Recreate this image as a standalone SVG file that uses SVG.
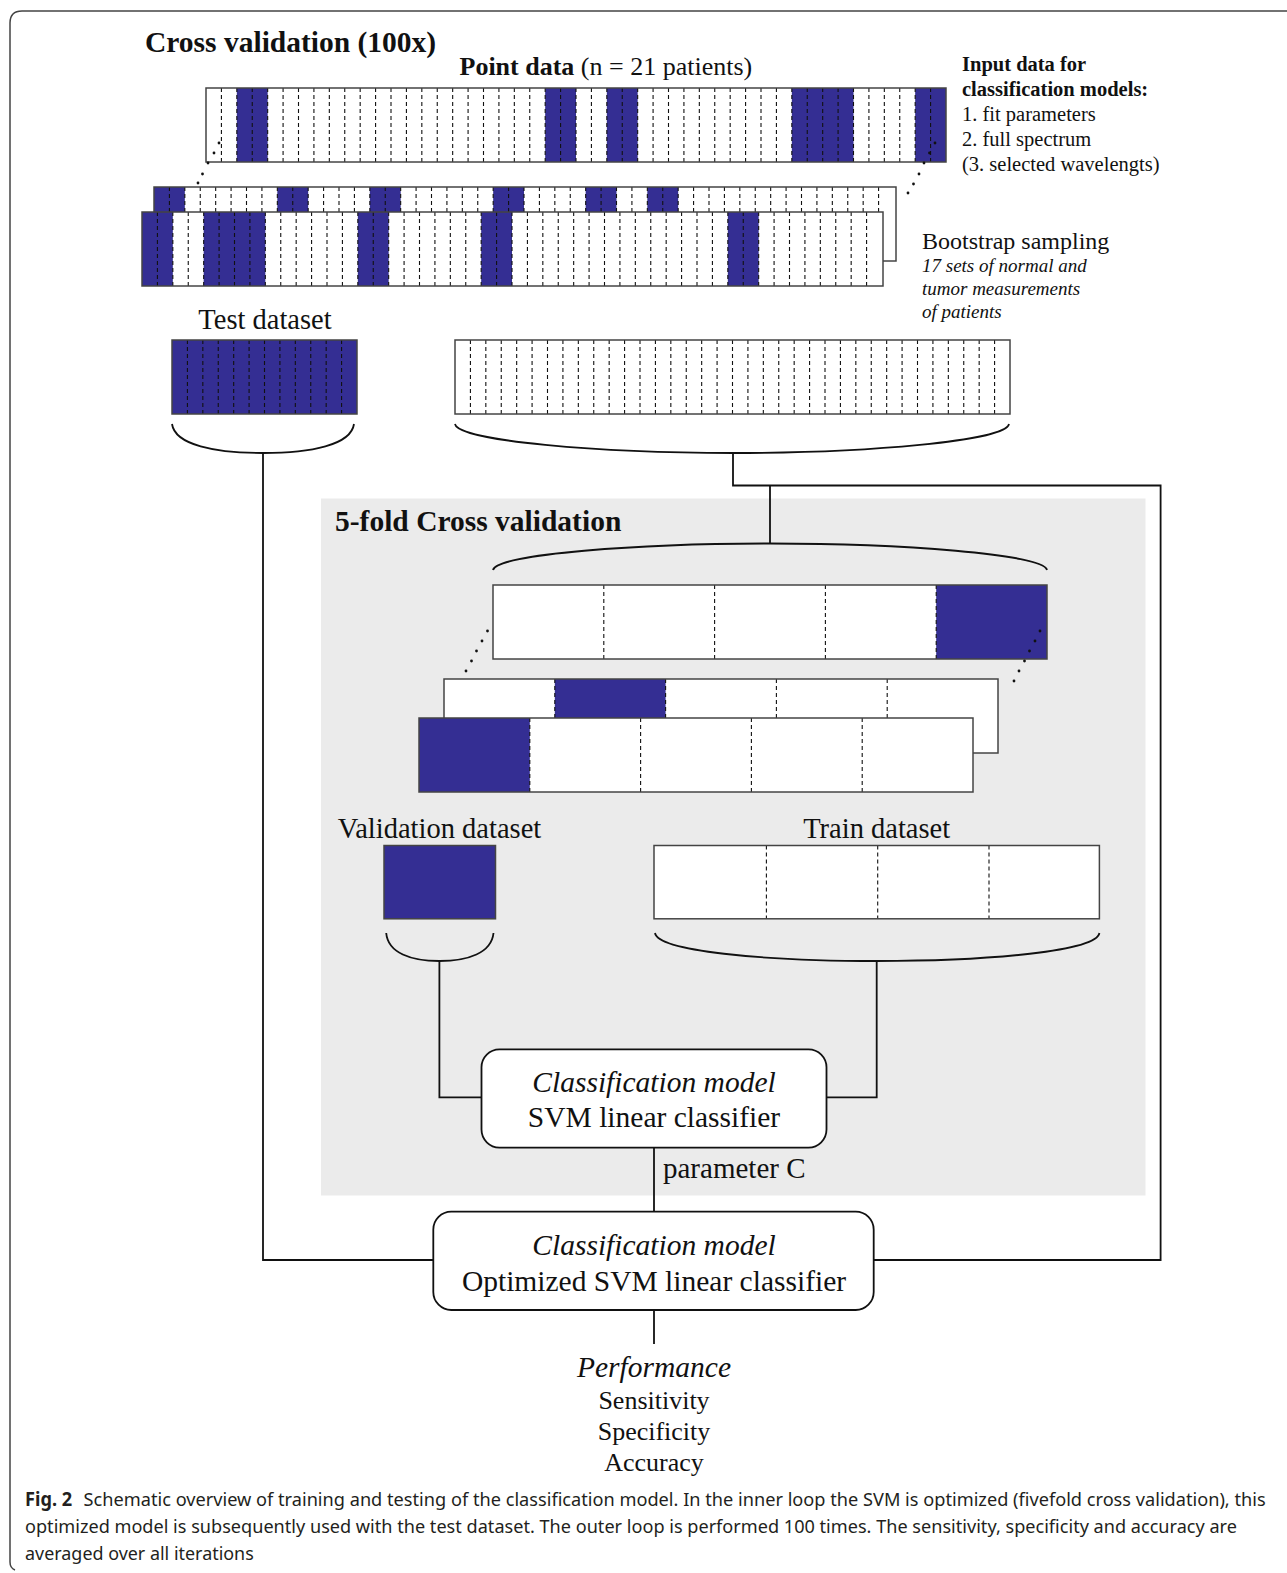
<svg xmlns="http://www.w3.org/2000/svg" xmlns:xlink="http://www.w3.org/1999/xlink" width="1287" height="1573" viewBox="0 0 1287 1573">
<style>
.serif{font-family:"Liberation Serif","Times New Roman",serif;fill:#111}
.b{font-weight:bold}
.i{font-style:italic}
.blue{fill:#342e93}
.frame{fill:none;stroke:#444;stroke-width:1.5}
.dash{fill:none;stroke:#111;stroke-width:1.1;stroke-dasharray:4,3}
.conn{fill:none;stroke:#111;stroke-width:1.8}
.box{fill:#fff;stroke:#111;stroke-width:1.8}
.cap{font-family:"Noto Sans","Open Sans","Liberation Sans",sans-serif;fill:#231f20;font-size:19px}
</style>
<defs>
<path id="c47" d="M15.42 0v74M30.83 0v74M46.25 0v74M61.67 0v74M77.08 0v74M92.5 0v74M107.92 0v74M123.33 0v74M138.75 0v74M154.17 0v74M169.58 0v74M185 0v74M200.42 0v74M215.83 0v74M231.25 0v74M246.67 0v74M262.08 0v74M277.5 0v74M292.92 0v74M308.33 0v74M323.75 0v74M339.17 0v74M354.58 0v74M370 0v74M385.42 0v74M400.83 0v74M416.25 0v74M431.67 0v74M447.08 0v74M462.5 0v74M477.92 0v74M493.33 0v74M508.75 0v74M524.17 0v74M539.58 0v74M555 0v74M570.42 0v74M585.83 0v74M601.25 0v74M616.67 0v74M632.08 0v74M647.5 0v74M662.92 0v74M678.33 0v74M693.75 0v74M709.17 0v74M724.58 0v74"/>
<path id="c11" d="M15.42 0v74M30.83 0v74M46.25 0v74M61.67 0v74M77.08 0v74M92.5 0v74M107.92 0v74M123.33 0v74M138.75 0v74M154.17 0v74M169.58 0v74"/>
<path id="c35" d="M15.42 0v74M30.83 0v74M46.25 0v74M61.67 0v74M77.08 0v74M92.5 0v74M107.92 0v74M123.33 0v74M138.75 0v74M154.17 0v74M169.58 0v74M185 0v74M200.42 0v74M215.83 0v74M231.25 0v74M246.67 0v74M262.08 0v74M277.5 0v74M292.92 0v74M308.33 0v74M323.75 0v74M339.17 0v74M354.58 0v74M370 0v74M385.42 0v74M400.83 0v74M416.25 0v74M431.67 0v74M447.08 0v74M462.5 0v74M477.92 0v74M493.33 0v74M508.75 0v74M524.17 0v74M539.58 0v74"/>
<path id="c5" d="M110.8 0v74M221.6 0v74M332.4 0v74M443.2 0v74"/>
</defs>

<rect width="1287" height="1573" fill="#fff"/>
<path class="frame" d="M10 1562V23Q10 11 22 11H1287M10 1562Q10 1568 15 1570" stroke="#555"/>

<g id="inner-cv-background">
<rect x="321" y="498.5" width="824.5" height="697" fill="#ebebeb"/>
</g>

<g id="title"><text class="serif b" x="145" y="52" font-size="29.5">Cross validation (100x)</text></g>
<g id="point-data-label"><text class="serif" x="459.5" y="75" font-size="26"><tspan class="b">Point data</tspan> (n = 21 patients)</text></g>
<g id="input-data-label" class="serif" font-size="20.5">
<text class="b" x="962" y="71">Input data for</text>
<text class="b" x="962" y="96">classification models:</text>
<text x="962" y="121">1. fit parameters</text>
<text x="962" y="146">2. full spectrum</text>
<text x="962" y="170.5">(3. selected wavelengts)</text>
</g>

<g id="point-data-bar" transform="translate(206,88)">
<rect width="740" height="74" fill="#fff"/>
<rect class="blue" x="30.83" width="30.83" height="74"/>
<rect class="blue" x="339.17" width="30.83" height="74"/>
<rect class="blue" x="400.83" width="30.83" height="74"/>
<rect class="blue" x="585.83" width="61.67" height="74"/>
<rect class="blue" x="709.17" width="30.83" height="74"/>
<use xlink:href="#c47" class="dash"/>
<rect width="740" height="74" class="frame"/>
</g>

<g id="bootstrap-bar-back" transform="translate(154,187)">
<rect width="742" height="74" fill="#fff"/>
<rect class="blue" x="0" width="30.83" height="74"/>
<rect class="blue" x="123.33" width="30.83" height="74"/>
<rect class="blue" x="215.83" width="30.83" height="74"/>
<rect class="blue" x="339.17" width="30.83" height="74"/>
<rect class="blue" x="431.67" width="30.83" height="74"/>
<rect class="blue" x="493.33" width="30.83" height="74"/>
<use xlink:href="#c47" class="dash"/>
<rect width="742" height="74" class="frame"/>
</g>

<g id="bootstrap-bar-front" transform="translate(142,212)">
<rect width="741" height="74" fill="#fff"/>
<rect class="blue" x="0" width="30.83" height="74"/>
<rect class="blue" x="61.67" width="61.67" height="74"/>
<rect class="blue" x="215.83" width="30.83" height="74"/>
<rect class="blue" x="339.17" width="30.83" height="74"/>
<rect class="blue" x="585.83" width="30.83" height="74"/>
<use xlink:href="#c47" class="dash"/>
<rect width="741" height="74" class="frame"/>
</g>

<g id="bootstrap-dots" fill="#111">
<circle cx="219" cy="143" r="1.4"/><circle cx="214" cy="153" r="1.4"/><circle cx="208" cy="163" r="1.4"/><circle cx="202.5" cy="174" r="1.4"/><circle cx="198" cy="183" r="1.4"/>
<circle cx="935" cy="143" r="1.4"/><circle cx="929.5" cy="153" r="1.4"/><circle cx="924" cy="163" r="1.4"/><circle cx="919" cy="174" r="1.4"/><circle cx="913.5" cy="184" r="1.4"/><circle cx="908" cy="193" r="1.4"/>
</g>

<g id="bootstrap-label" class="serif">
<text x="922" y="248.5" font-size="24">Bootstrap sampling</text>
<text class="i" x="922" y="271.5" font-size="19">17 sets of normal and</text>
<text class="i" x="922" y="294.5" font-size="19">tumor measurements</text>
<text class="i" x="922" y="318" font-size="19">of patients</text>
</g>

<g id="test-dataset">
<text class="serif" x="265" y="329" font-size="28.5" text-anchor="middle">Test dataset</text>
<g transform="translate(172,340)">
<rect class="blue" width="185" height="74"/>
<use xlink:href="#c11" class="dash"/>
<rect width="185" height="74" class="frame"/>
</g>
</g>

<g id="training-dataset" transform="translate(455,340)">
<rect width="555" height="74" fill="#fff"/>
<use xlink:href="#c35" class="dash"/>
<rect width="555" height="74" class="frame"/>
</g>

<g id="fivefold-label"><text class="serif b" x="335" y="530.5" font-size="29.5">5-fold Cross validation</text></g>

<g id="fold-bar-1" transform="translate(493,585)">
<rect width="554" height="74" fill="#fff"/>
<rect class="blue" x="443.2" width="110.8" height="74"/>
<use xlink:href="#c5" class="dash"/>
<rect width="554" height="74" class="frame"/>
</g>
<g id="fold-bar-2" transform="translate(444,679)">
<rect width="554" height="74" fill="#fff"/>
<rect class="blue" x="110.8" width="110.8" height="74"/>
<use xlink:href="#c5" class="dash"/>
<rect width="554" height="74" class="frame"/>
</g>
<g id="fold-bar-3" transform="translate(419,718)">
<rect width="554" height="74" fill="#fff"/>
<rect class="blue" x="0" width="110.8" height="74"/>
<use xlink:href="#c5" class="dash"/>
<rect width="554" height="74" class="frame"/>
</g>
<g id="fold-dots" fill="#111">
<circle cx="487.5" cy="631" r="1.4"/><circle cx="482" cy="641" r="1.4"/><circle cx="476.5" cy="651" r="1.4"/><circle cx="471.5" cy="661" r="1.4"/><circle cx="466" cy="671" r="1.4"/>
<circle cx="1040" cy="631" r="1.4"/><circle cx="1035" cy="641" r="1.4"/><circle cx="1029.5" cy="651" r="1.4"/><circle cx="1024.5" cy="661" r="1.4"/><circle cx="1019" cy="671" r="1.4"/><circle cx="1014" cy="681" r="1.4"/>
</g>

<g id="validation-dataset">
<text class="serif" x="439.5" y="838" font-size="28.5" text-anchor="middle">Validation dataset</text>
<rect class="blue" x="384" y="845.5" width="111.5" height="73.3"/>
<rect x="384" y="845.5" width="111.5" height="73.3" class="frame"/>
</g>

<g id="train-dataset">
<text class="serif" x="876.7" y="838" font-size="28.5" text-anchor="middle">Train dataset</text>
<rect x="654" y="845.5" width="445.4" height="73.3" fill="#fff"/>
<path class="dash" d="M766.4 845.5v73.3M877.7 845.5v73.3M989 845.5v73.3"/>
<rect x="654" y="845.5" width="445.4" height="73.3" class="frame"/>
</g>

<g id="connectors">
<path class="conn" d="M172 424C175 445 215 453 263 453C311 453 351 445 354 424"/>
<path class="conn" d="M455 424C458 441 600 453 733 453C866 453 1006 441 1009 424"/>
<path class="conn" d="M493 570C496 554 641 543.5 770 543.5C899 543.5 1044 554 1047 570"/>
<path class="conn" d="M386.2 933C388 953 411 961 439.4 961C468 961 491.5 953 493.5 933"/>
<path class="conn" d="M655 933C658 951 762 961 876.7 961C991 961 1096.5 951 1099.4 933"/>
<path class="conn" d="M263 453V1260H433.3"/>
<path class="conn" d="M733 453V485.5H1160.6V1260H873.7"/>
<path class="conn" d="M770 485.5V543.5"/>
<path class="conn" d="M439.4 961V1097.4H481.5"/>
<path class="conn" d="M876.7 961V1097.4H826.6"/>
<path class="conn" d="M654 1147.6V1211.7"/>
<path class="conn" d="M654 1310V1344"/>
</g>

<g id="classification-model">
<rect class="box" x="481.5" y="1049.3" width="345" height="98.3" rx="18"/>
<text class="serif i" x="654" y="1091.8" font-size="29.5" text-anchor="middle">Classification model</text>
<text class="serif" x="654" y="1127" font-size="29.5" text-anchor="middle">SVM linear classifier</text>
</g>

<g id="parameter-label"><text class="serif" x="663" y="1178" font-size="29">parameter C</text></g>

<g id="optimized-model">
<rect class="box" x="433.3" y="1211.7" width="440.4" height="98.3" rx="18"/>
<text class="serif i" x="654" y="1255.3" font-size="29.5" text-anchor="middle">Classification model</text>
<text class="serif" x="654" y="1290.5" font-size="29.5" text-anchor="middle">Optimized SVM linear classifier</text>
</g>

<g id="performance" class="serif" text-anchor="middle">
<text class="i" x="654" y="1377" font-size="29.5">Performance</text>
<text x="654" y="1409" font-size="26">Sensitivity</text>
<text x="654" y="1440" font-size="26">Specificity</text>
<text x="654" y="1471" font-size="26">Accuracy</text>
</g>

<g id="caption">
<text class="cap" transform="translate(25,1506) scale(0.82,1)" textLength="1513" lengthAdjust="spacingAndGlyphs"><tspan font-weight="bold">Fig. 2</tspan><tspan dx="7"> Schematic overview of training and testing of the classification model. In the inner loop the SVM is optimized (fivefold cross validation), this</tspan></text>
<text class="cap" transform="translate(25,1533) scale(0.82,1)" textLength="1478" lengthAdjust="spacingAndGlyphs">optimized model is subsequently used with the test dataset. The outer loop is performed 100 times. The sensitivity, specificity and accuracy are</text>
<text class="cap" transform="translate(25,1560) scale(0.82,1)" textLength="279" lengthAdjust="spacingAndGlyphs">averaged over all iterations</text>
</g>
</svg>
